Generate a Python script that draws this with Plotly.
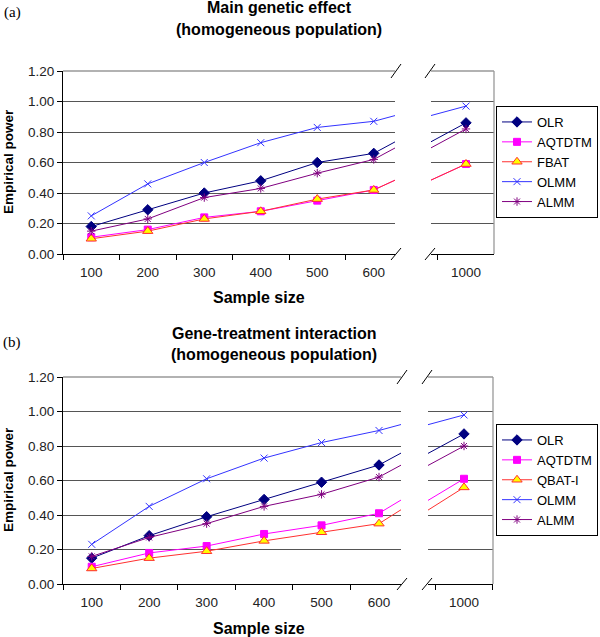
import plotly.graph_objects as go

W, H = 600, 637

sizes = ["100", "200", "300", "400", "500", "600", "1000"]
pos = [1, 2, 3, 4, 5, 6, 7]

# panel (a): main genetic effect
a_olr = [0.18, 0.29, 0.40, 0.48, 0.60, 0.66, 0.86]
a_aqtdtm = [0.11, 0.16, 0.24, 0.28, 0.35, 0.42, 0.59]
a_fbat = [0.10, 0.15, 0.23, 0.28, 0.36, 0.42, 0.59]
a_olmm = [0.25, 0.46, 0.60, 0.73, 0.83, 0.87, 0.97]
a_almm = [0.15, 0.23, 0.37, 0.43, 0.53, 0.62, 0.82]

# panel (b): gene-treatment interaction
b_olr = [0.15, 0.28, 0.39, 0.49, 0.59, 0.69, 0.87]
b_aqtdtm = [0.10, 0.18, 0.22, 0.29, 0.34, 0.41, 0.61]
b_qbat = [0.09, 0.15, 0.19, 0.25, 0.30, 0.35, 0.56]
b_olmm = [0.23, 0.45, 0.61, 0.73, 0.82, 0.89, 0.98]
b_almm = [0.16, 0.27, 0.35, 0.45, 0.52, 0.62, 0.80]

styles = {
    "OLR": dict(color="#000080", symbol="diamond", size=8, fill="#000080"),
    "AQTDTM": dict(color="#FF00FF", symbol="square", size=7, fill="#FF00FF"),
    "FBAT": dict(color="#FF3030", symbol="triangle-up", size=9, fill="#FFFF00"),
    "QBAT-I": dict(color="#FF3030", symbol="triangle-up", size=9, fill="#FFFF00"),
    "OLMM": dict(color="#3333FF", symbol="x-thin-open", size=7, fill="#3333FF"),
    "ALMM": dict(color="#800080", symbol="asterisk-open", size=7, fill="#800080"),
}

def px(x):
    return x / W

def py(y):
    return 1 - y / H

fig = go.Figure()

def add_panel(series, axes, legend):
    for name, vals in series:
        st = styles[name]
        for i, (xa, ya) in enumerate(axes):
            fig.add_trace(go.Scatter(
                x=pos, y=vals, name=name, mode="lines+markers",
                xaxis=xa, yaxis=ya,
                line=dict(color=st["color"], width=1),
                marker=dict(symbol=st["symbol"], size=st["size"], color=st["fill"],
                            line=dict(color=st["color"], width=1)),
                showlegend=(i == 0), legend=legend, legendgroup=legend + name,
            ))

add_panel([("OLR", a_olr), ("AQTDTM", a_aqtdtm), ("FBAT", a_fbat),
           ("OLMM", a_olmm), ("ALMM", a_almm)], [("x", "y"), ("x2", "y2")], "legend")
add_panel([("OLR", b_olr), ("AQTDTM", b_aqtdtm), ("QBAT-I", b_qbat),
           ("OLMM", b_olmm), ("ALMM", b_almm)], [("x3", "y3"), ("x4", "y4")], "legend2")

tickfont = dict(family="Arial, Liberation Sans", size=13.5, color="#222")
grid = "#555555"

def xax(dom, rng, anchor, ticks_at, labels):
    return dict(domain=dom, range=rng, anchor=anchor, tickmode="array",
                tickvals=ticks_at, ticktext=labels, ticks="", tickfont=tickfont,
                showgrid=False, zeroline=False, showline=True, linecolor="black",
                linewidth=1, ticklabelstandoff=6, automargin=False,
                minor=dict(ticks="outside", tick0=0.5, dtick=1, ticklen=5,
                           tickcolor="black", showgrid=False))

def yax(dom, anchor, show):
    return dict(domain=dom, range=[0, 1.2], anchor=anchor, tickvals=[0, 0.2, 0.4, 0.6, 0.8, 1.0, 1.2],
                tickformat=".2f", showticklabels=show, ticks="outside" if show else "",
                ticklen=5, tickcolor="black", tickfont=tickfont, showgrid=True,
                gridcolor=grid, gridwidth=1.3, zeroline=False, showline=show,
                linecolor="black", linewidth=1, automargin=False)

ya = [py(254), py(71)]
yb = [py(584), py(377)]

legfont = dict(family="Arial, Liberation Sans", size=13, color="black")
fig.update_layout(
    width=W, height=H, margin=dict(l=0, r=0, t=0, b=0, autoexpand=False),
    paper_bgcolor="white", plot_bgcolor="white",
    xaxis=xax([px(63), px(395)], [0.5, 6.376], "y", pos[:6], sizes[:6]),
    xaxis2=xax([px(431), px(494)], [6.38, 7.496], "y2", pos[6:], sizes[6:]),
    yaxis=yax(ya, "x", True),
    yaxis2=yax(ya, "x2", False),
    xaxis3=xax([px(63), px(401)], [0.5, 6.383], "y3", pos[:6], sizes[:6]),
    xaxis4=xax([px(428), px(493)], [6.373, 7.505], "y4", pos[6:], sizes[6:]),
    yaxis3=yax(yb, "x3", True),
    yaxis4=yax(yb, "x4", False),
    legend=dict(x=px(598), y=py(106), xanchor="right", yanchor="top",
                bgcolor="white", bordercolor="black", borderwidth=1,
                font=legfont, itemwidth=30, tracegroupgap=0),
    legend2=dict(x=px(598), y=py(424), xanchor="right", yanchor="top",
                 bgcolor="white", bordercolor="black", borderwidth=1,
                 font=legfont, itemwidth=30, tracegroupgap=0),
)

bold = dict(family="Arial, Liberation Sans", size=16, color="black")
texts = [
    ("<b>Main genetic effect</b>", 279, 8, bold, 0),
    ("<b>(homogeneous population)</b>", 279, 30, bold, 0),
    ("<b>Gene-treatment interaction</b>", 274, 333, bold, 0),
    ("<b>(homogeneous population)</b>", 274, 354, bold, 0),
    ("<b>Sample size</b>", 259, 297, bold, 0),
    ("<b>Sample size</b>", 259, 628, bold, 0),
    ("<b>Empirical power</b>", 8, 162, dict(bold, size=13.5), -90),
    ("<b>Empirical power</b>", 8, 480, dict(bold, size=13.5), -90),
    ("(a)", 12, 12, dict(family="Liberation Serif", size=15, color="black"), 0),
    ("(b)", 12, 342, dict(family="Liberation Serif", size=15, color="black"), 0),
]
for t, x, y, f, ang in texts:
    fig.add_annotation(text=t, x=px(x), y=py(y), xref="paper", yref="paper",
                       showarrow=False, font=f, textangle=ang,
                       xanchor="center", yanchor="middle")

# plot frame: grey top border and right border, axis break marks
def seg(x0, y0, x1, y1, color="black", width=1):
    fig.add_shape(type="line", xref="paper", yref="paper",
                  x0=px(x0), y0=py(y0), x1=px(x1), y1=py(y1),
                  line=dict(color=color, width=width))

for l0, l1, r0, r1, top, bot in [(63, 395, 431, 494, 71, 254), (63, 401, 428, 493, 377, 584)]:
    seg(l0, top, l1, top, "#999999", 1.3)
    seg(r0, top, r1, top, "#999999", 1.3)
    seg(r1, top, r1, bot, "#999999", 1.3)
    for xc in (l1 + 1, r0 - 1):
        seg(xc - 5, top + 7, xc + 5, top - 7)
        seg(xc - 5, bot + 6, xc + 5, bot - 6)

# the page has a default 8px body margin; drop it so the figure fills the window
fig.write_html("out.html", config={"displayModeBar": False},
               post_script="document.body.style.margin='0';")
